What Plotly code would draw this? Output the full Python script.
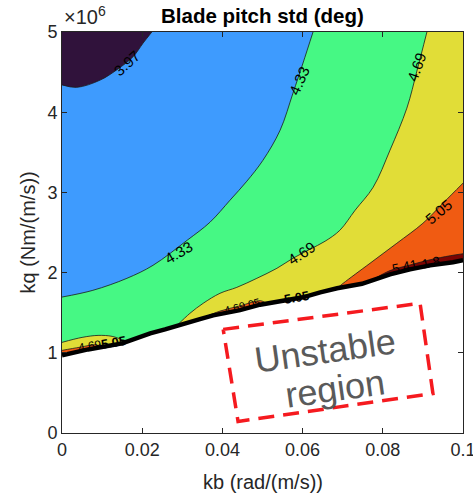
import numpy as np
import plotly.graph_objects as go

# ---------------- data (kb in rad/(m/s), kq in 1e6 Nm/(m/s)) ----------------
levels = [3.97, 4.33, 4.69, 5.05, 5.41]
level_colors = ["#30123b", "#3e9bfe", "#46f884", "#e1dd37", "#f05b12", "#7a0403"]

# stability boundary (thick black line)
stab_kb = [0, 0.0065, 0.0150, 0.0175, 0.0220, 0.0257, 0.0314, 0.0344, 0.0377, 0.0444,
           0.0494, 0.0544, 0.0601, 0.0644, 0.0686, 0.0748, 0.0818, 0.0868, 0.0918, 0.0975, 0.1]
stab_kq = [0.968, 1.042, 1.117, 1.167, 1.242, 1.292, 1.367, 1.420, 1.467, 1.532,
           1.600, 1.642, 1.692, 1.754, 1.804, 1.860, 1.978, 2.040, 2.090, 2.129, 2.154]

# contour 3.97
c397_kb = [0, 0.0037, 0.0095, 0.0137, 0.0177, 0.0202, 0.0224]
c397_kq = [4.34, 4.31, 4.40, 4.53, 4.69, 4.86, 5.0]
# contour 4.33
c433_kb = [0, 0.0077, 0.0162, 0.0227, 0.0312, 0.0369, 0.0419, 0.0461, 0.0501, 0.0544, 0.0576, 0.0601, 0.0626]
c433_kq = [1.695, 1.779, 1.929, 2.091, 2.403, 2.628, 2.903, 3.140, 3.400, 3.776, 4.238, 4.613, 5.0]
# contour 4.69 (main)
c469_kb = [0.0287, 0.0319, 0.0352, 0.0394, 0.0436, 0.0486, 0.0536, 0.0576, 0.0618, 0.0656,
           0.0693, 0.0731, 0.0776, 0.0818, 0.0860, 0.0885, 0.0910]
c469_kq = [1.342, 1.492, 1.617, 1.742, 1.816, 1.929, 2.054, 2.179, 2.290, 2.391,
           2.528, 2.778, 3.065, 3.527, 4.051, 4.513, 5.0]
# contour 4.69 (left sliver)
c469s_kb = [0, 0.0050, 0.0090, 0.0125, 0.0150, 0.0157]
c469s_kq = [1.130, 1.192, 1.217, 1.205, 1.160, 1.132]
# contour 5.05 (main)
c505_kb = [0.0686, 0.0701, 0.0768, 0.0835, 0.0900, 0.0950, 0.1]
c505_kq = [1.804, 1.866, 2.116, 2.366, 2.615, 2.865, 3.115]
# contour 5.05 slivers along the boundary
c505a_kb = [0, 0.0045, 0.0085, 0.0098]
c505a_kq = [1.030, 1.070, 1.100, 1.071]
c505b_kb = [0.0350, 0.0394, 0.0444, 0.0495, 0.0510]
c505b_kq = [1.432, 1.520, 1.585, 1.650, 1.615]
# contour 5.41 (dark red band)
c541_kb = [0.0780, 0.0818, 0.0868, 0.0918, 0.0968, 0.1]
c541_kq = [1.925, 2.025, 2.095, 2.160, 2.210, 2.235]

# dashed box of unstable region
box_kb = [0.0402, 0.0893, 0.0925, 0.0439, 0.0402]
box_kq = [1.292, 1.617, 0.493, 0.144, 1.292]

x_ticks = [0, 0.02, 0.04, 0.06, 0.08, 0.1]
x_ticktext = ["0", "0.02", "0.04", "0.06", "0.08", "0.1"]
y_ticks = [0, 1, 2, 3, 4, 5]
y_ticktext = ["0", "1", "2", "3", "4", "5"]

KQ_TOP = 5.0
KB_MAX = 0.1


def line_between(a, b):
    """stability line vertices with kb strictly between a and b, ordered from a to b"""
    pts = [(k, q) for k, q in zip(stab_kb, stab_kq) if min(a, b) < k < max(a, b)]
    if a > b:
        pts = pts[::-1]
    return pts


def build(segments):
    """join segments (lists of (x, y)); segment ends are repeated so splines keep sharp corners"""
    xs, ys = [], []
    for seg in segments:
        if not seg:
            continue
        for i, (x, y) in enumerate(seg):
            rep = 3 if i in (0, len(seg) - 1) else 1
            xs += [x] * rep
            ys += [y] * rep
    return xs, ys


def pts(kb, kq):
    return list(zip(kb, kq))


def on_line(k):
    return (k, float(np.interp(k, stab_kb, stab_kq)))


fig = go.Figure()


def poly(xs, ys, color, shape="spline"):
    fig.add_trace(go.Scatter(x=xs, y=ys, mode="lines", fill="toself", fillcolor=color,
                             line=dict(width=0, color=color, shape=shape, smoothing=1.0),
                             hoverinfo="skip", showlegend=False))


# orange base (whole stable region)
poly(list(stab_kb) + [KB_MAX, 0], list(stab_kq) + [KQ_TOP, KQ_TOP], level_colors[4], shape="linear")
# yellow
xs, ys = build([[(0, KQ_TOP), (KB_MAX, KQ_TOP)], pts(c505_kb, c505_kq)[::-1],
                line_between(c505_kb[0], -1) + [(0, stab_kq[0])]])
poly(xs, ys, level_colors[3])
# orange slivers
for tk, tq in [(c505a_kb, c505a_kq), (c505b_kb, c505b_kq)]:
    xs, ys = build([pts(tk, tq), line_between(tk[-1], tk[0]) + [on_line(tk[0])]])
    poly(xs, ys, level_colors[4])
# dark red band
xs, ys = build([pts(c541_kb, c541_kq), line_between(c541_kb[-1] + 1e-9, c541_kb[0]) + [on_line(c541_kb[0])]])
poly(xs, ys, level_colors[5])
# green
xs, ys = build([[(0, KQ_TOP)], pts(c469_kb, c469_kq)[::-1],
                line_between(c469_kb[0], c469s_kb[-1]), pts(c469s_kb, c469s_kq)[::-1]])
poly(xs, ys, level_colors[2])
# blue
xs, ys = build([[(0, KQ_TOP)], pts(c433_kb, c433_kq)[::-1]])
poly(xs, ys, level_colors[1])
# dark
xs, ys = build([[(0, KQ_TOP)], pts(c397_kb, c397_kq)[::-1]])
poly(xs, ys, level_colors[0])

# thin contour lines
for ck, cq in [(c397_kb, c397_kq), (c433_kb, c433_kq), (c469_kb, c469_kq), (c469s_kb, c469s_kq),
               (c505_kb, c505_kq), (c505a_kb, c505a_kq), (c505b_kb, c505b_kq), (c541_kb, c541_kq)]:
    fig.add_trace(go.Scatter(x=ck, y=cq, mode="lines",
                             line=dict(width=0.8, color="#1a1a1a", shape="spline", smoothing=1.0),
                             hoverinfo="skip", showlegend=False))

# stability boundary
fig.add_trace(go.Scatter(x=stab_kb, y=stab_kq, mode="lines", line=dict(width=4.5, color="black"),
                         hoverinfo="skip", showlegend=False))

# dashed box
fig.add_trace(go.Scatter(x=box_kb, y=box_kq, mode="lines",
                         line=dict(width=3.5, color="#f51a1f", dash="16px,9px"),
                         hoverinfo="skip", showlegend=False))

FONT = "Liberation Sans, Arial, sans-serif"
annotations = []
# contour labels: (kb, kq, text, angle)
labels = [
    (0.0160, 4.613, "3.97", -42),
    (0.0591, 4.400, "4.33", -66),
    (0.0883, 4.560, "4.69", -70),
    (0.0290, 2.250, "4.33", -30),
    (0.0596, 2.240, "4.69", -33),
    (0.0940, 2.760, "5.05", -40),
]
for k, q, t, a in labels:
    annotations.append(dict(x=k, y=q, xref="x", yref="y", text=t, showarrow=False, textangle=a,
                            font=dict(family=FONT, size=15, color="black")))
# cluttered labels along boundary
clutter = [
    (0.0070, 1.085, "4.69", -10, 12, False),
    (0.0128, 1.125, "5.05", -10, 13, True),
    (0.0430, 1.560, "4.69", -15, 11, False),
    (0.0480, 1.615, "05", -15, 11, False),
    (0.0585, 1.690, "5.05", -10, 13, True),
    (0.0855, 2.075, "5.41", -12, 13, False),
    (0.0920, 2.125, "1.8", -12, 13, False),
]
for k, q, t, a, s, b in clutter:
    annotations.append(dict(x=k, y=q, xref="x", yref="y", text=("<b>%s</b>" % t) if b else t,
                            showarrow=False, textangle=a,
                            font=dict(family=FONT, size=s, color="black")))

# unstable region text
annotations.append(dict(x=0.0657, y=1.03, xref="x", yref="y", text="Unstable", showarrow=False,
                        textangle=-8, font=dict(family=FONT, size=36, color="#5a5a5a")))
annotations.append(dict(x=0.0680, y=0.55, xref="x", yref="y", text="region", showarrow=False,
                        textangle=-8, font=dict(family=FONT, size=36, color="#5a5a5a")))

# title, exponent, axis titles
annotations.append(dict(x=0.5, y=1 + 17 / 401, xref="paper", yref="paper", text="<b>Blade pitch std (deg)</b>",
                        showarrow=False, yanchor="middle",
                        font=dict(family=FONT, size=20.5, color="black")))
annotations.append(dict(x=0.0, y=1 + 17 / 401, xref="paper", yref="paper", text="×10<sup>6</sup>",
                        showarrow=False, xanchor="left", yanchor="middle",
                        font=dict(family=FONT, size=20, color="#262626")))
annotations.append(dict(x=0.5, y=-49 / 401, xref="paper", yref="paper", text="kb (rad/(m/s))",
                        showarrow=False, yanchor="middle",
                        font=dict(family=FONT, size=20, color="#262626")))
annotations.append(dict(x=-35 / 401, y=0.5, xref="paper", yref="paper", text="kq (Nm/(m/s))",
                        showarrow=False, textangle=-90, xanchor="center", yanchor="middle",
                        font=dict(family=FONT, size=20, color="#262626")))

axis_common = dict(showline=True, mirror="ticks", linecolor="#262626", linewidth=1,
                   ticks="inside", ticklen=5, tickwidth=1, tickcolor="#262626",
                   showgrid=False, zeroline=False, layer="above traces", automargin=False,
                   tickfont=dict(family=FONT, size=18, color="#262626"))

fig.update_layout(
    width=473, height=497,
    margin=dict(l=62, r=10, t=32, b=64, autoexpand=False),
    paper_bgcolor="white", plot_bgcolor="white",
    xaxis=dict(range=[0, KB_MAX], tickvals=x_ticks, ticktext=x_ticktext,
               ticklabeloverflow="allow", **axis_common),
    yaxis=dict(range=[0, KQ_TOP], tickvals=y_ticks, ticktext=y_ticktext, **axis_common),
    annotations=annotations,
    showlegend=False,
)

fig.write_html("out.html")
